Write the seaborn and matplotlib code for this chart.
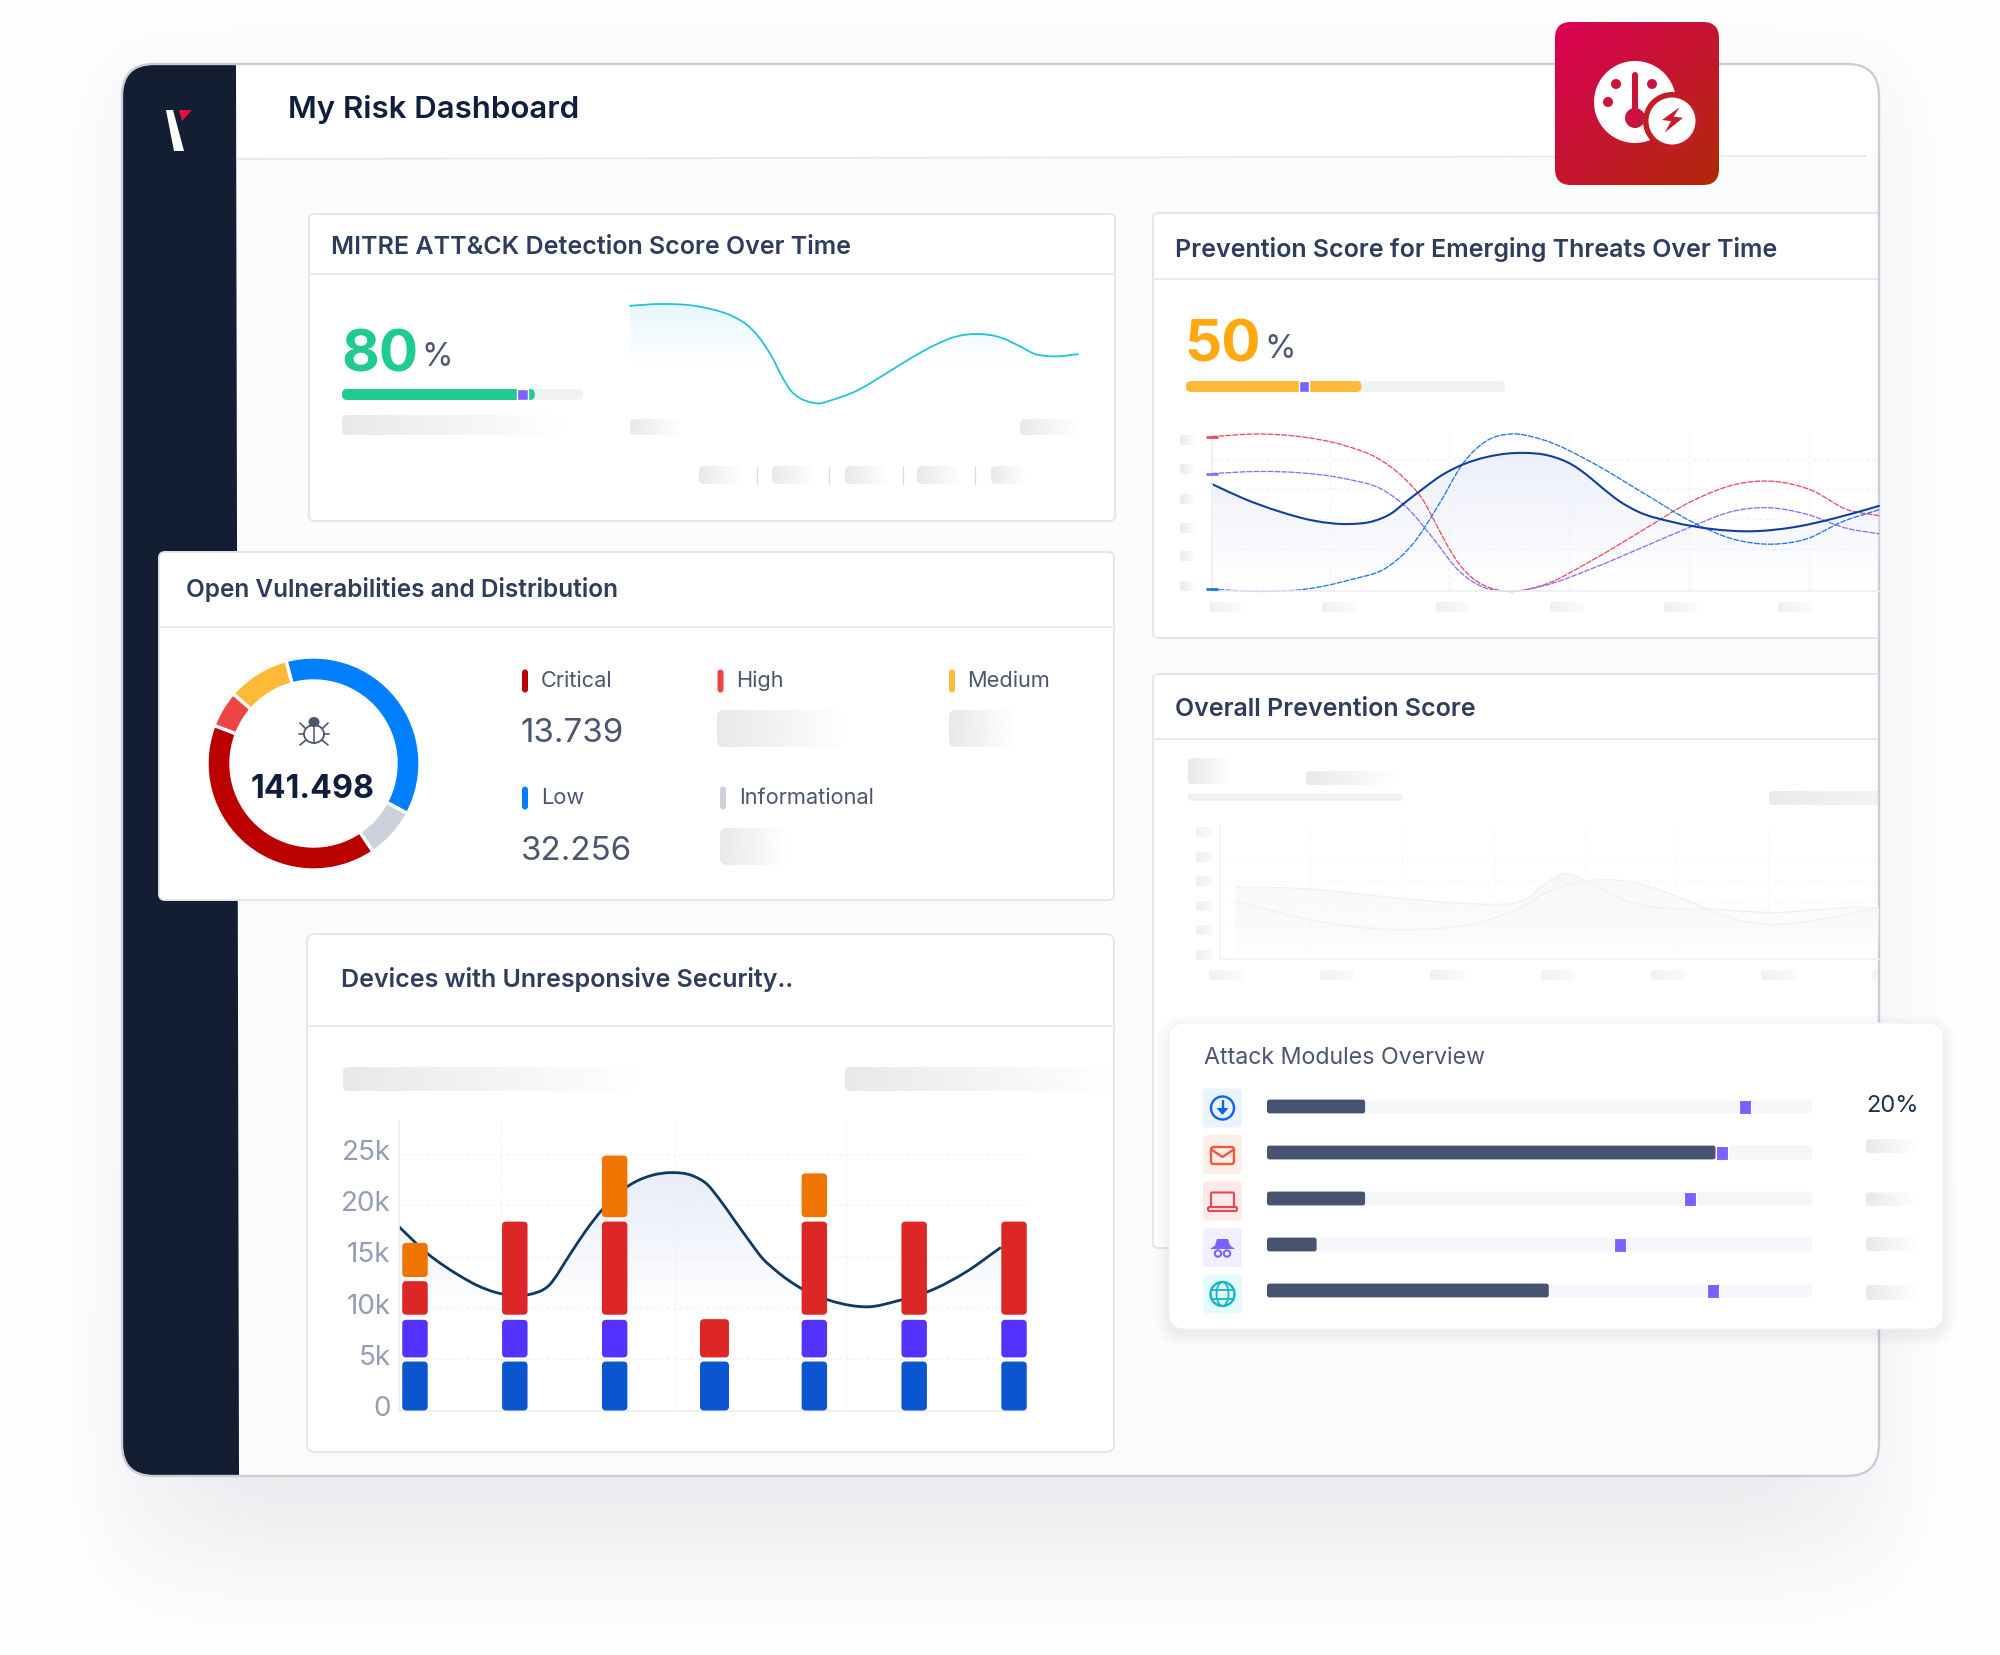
import numpy as np
import matplotlib
matplotlib.use("Agg")
import matplotlib.pyplot as plt
import matplotlib.transforms as mtrans
from matplotlib.colors import to_rgb
from matplotlib.patches import Circle, Ellipse, FancyBboxPatch, PathPatch, Polygon, Rectangle
from matplotlib.path import Path
import seaborn as sns

# Configuration
W, H = 2000, 1655
FONT = "Inter"
TITLE_COL = "#2f3d5c"
TEXT_COL = "#4a5670"
NAVY = "#0f1e3d"
PURPLE = "#7b61ff"

# MITRE detection score over time
DET_T = [0, 5, 10, 12.5, 16, 18.5, 20, 21, 22, 24, 25.2, 26.5, 27.8, 29.5, 32, 35, 41, 44.5, 48, 51,
         54.5, 58, 61, 63.5, 65.2, 67, 70.2]
DET_SCORE = [98.4, 100, 98.4, 95.6, 89, 80, 71, 63, 54, 31.5, 20.5, 14, 10.7, 8.8, 12.6, 19, 39.4, 52, 63, 70,
             72.5, 69.4, 61.5, 54, 52.3, 52, 54]
DET_GAUGE = 80
DET_MARK = 72.6

# Prevention score for emerging threats
NAVY_T = [0, 6.5, 13.5, 20.5, 27.5, 32.5, 36, 39, 42.5, 46, 49.5, 55.5, 62.5, 67.5, 72.5, 75.5, 78.5, 82, 85.5,
          92.5, 100.5, 108.5, 116.5, 125.5, 134]
NAVY_SCORE = [68.2, 58.8, 50.8, 44.9, 42.8, 44.7, 49.5, 57, 65.5, 73.5, 79.4, 85.6, 88, 86.4, 80.2, 73.5, 65.5, 57,
              50.8, 44.1, 39.6, 38.2, 40.6, 46.8, 54.3]
RED_T = [0, 9.5, 17.5, 26.5, 33.5, 38.5, 42.5, 45, 47.5, 50, 52.5, 56, 59.5, 66.5, 76.5, 86.5, 96.5, 105.5, 112.5,
         120.5, 127.5, 134]
RED_SCORE = [98.4, 100, 98.4, 92.8, 84.2, 72.2, 57.5, 42.8, 28, 16, 8, 2.1, 0, 4, 20, 38.8, 57.5, 68.2, 70,
             64.2, 52.1, 48.1]
VIOLET_T = [0, 9.5, 17.5, 26.5, 34.5, 39.5, 44.5, 49.5, 54.5, 59.5, 66.5, 76.5, 86.5, 96.5, 104.5, 111.5, 119.5,
            127.5, 134]
VIOLET_SCORE = [74.9, 76.2, 75.4, 71.7, 64.2, 52.1, 33.4, 13.4, 2.7, 0, 3.5, 14.7, 28, 41.4, 50.8, 53.2, 49,
                40.1, 36.6]
BLUE_T = [0, 9.5, 18.5, 27.5, 35.5, 40.5, 45.5, 50.5, 55.5, 60, 66.5, 76.5, 86.5, 96.5, 104.5, 112.5, 119.5,
          126.5, 134]
BLUE_SCORE = [1.3, 0, 1.3, 7.2, 16, 30.7, 54.8, 81.6, 96.3, 100, 96.3, 81.6, 62.8, 44.1, 33.4, 30, 33.4, 44.1, 51.9]
EMERGING_GAUGE = 55
EMERGING_MARK = 35.4

# Open vulnerabilities
DONUT_LABELS = ["Low", "Informational", "Critical", "High", "Medium"]
DONUT_SHARE = [133, 28, 145, 20, 34]
DONUT_COLORS = ["#0080ff", "#cbd2db", "#bb0000", "#ef4444", "#ffb938"]
DONUT_TOTAL = "141.498"
CRITICAL_COUNT = "13.739"
LOW_COUNT = "32.256"

# Devices with unresponsive security, stacked pieces in thousands
BAR_POS = [0, 1, 2, 3, 4, 5, 6]
BLUE_LOW = [0, 0, 0, 0, 0, 0, 0]
BLUE_HIGH = [4.77, 4.77, 4.77, 4.77, 4.77, 4.77, 4.77]
PURPLE_LOW = [5.17, 5.17, 5.17, 0, 5.17, 5.17, 5.17]
PURPLE_HIGH = [8.83, 8.83, 8.83, 0, 8.83, 8.83, 8.83]
RED_LOW = [9.33, 9.33, 9.33, 5.17, 9.33, 9.33, 9.33]
RED_HIGH = [12.6, 18.4, 18.4, 8.9, 18.4, 18.4, 18.4]
ORANGE_LOW = [13, 0, 18.83, 0, 18.83, 0, 0]
ORANGE_HIGH = [16.33, 0, 24.83, 0, 23.1, 0, 0]
TREND_POS = [-0.16, 0.12, 0.44, 0.62, 0.81, 1.13, 1.34, 1.55, 1.71, 1.87, 2.13, 2.37, 2.56, 2.79, 2.93, 3.03, 3.19,
             3.35, 3.48, 3.61, 3.88, 4.14, 4.41, 4.54, 4.83, 5.2, 5.52, 5.86]
TREND_K = [17.9, 15.33, 13.17, 12.2, 11.5, 11.27, 12.17, 15.17, 17.5, 19.5, 21.83, 22.9, 23.17, 22.83, 22, 20.83,
           18.67, 16.5, 14.83, 13.67, 11.83, 10.77, 10.17, 10.1, 10.67, 11.83, 13.5, 15.83]
Y_TICKS = [0, 5, 10, 15, 20, 25]
Y_LABELS = ["0", "5k", "10k", "15k", "20k", "25k"]

# Overall prevention score (greyed out)
OVERALL_A_T = [3, 17.5, 35.2, 48.5, 56.5, 59.5, 62.5, 65, 67.3, 70, 72.5, 76.5, 80.5, 95.5, 108.5, 116.5, 123.5, 127.6]
OVERALL_A = [83.5, 81, 70, 64, 64, 70, 85, 95, 99, 92.5, 85, 72.5, 64, 57.5, 54, 57.5, 60, 59]
OVERALL_B_T = [3, 17.5, 35.2, 52.5, 57.5, 62.5, 66.5, 70.5, 76.5, 82.5, 88.5, 95.5, 101.5, 106.5, 115.5, 127.6]
OVERALL_B = [67.5, 45, 34, 46, 57.5, 75, 85, 90, 91.5, 85, 72.5, 55, 43.5, 40, 45, 60]

# Attack modules
MODULES = ["Download", "Email", "Endpoint", "Threat actor", "Web"]
MODULE_FILL = [18, 82.3, 18, 9.1, 51.7]
MODULE_MARK = [87.7, 83.4, 77.7, 64.8, 81.9]
MODULE_TRACK = [100, 100, 100, 100, 100]

sns.set_theme(style="white")
plt.rcParams["font.family"] = [FONT, "DejaVu Sans"]

fig = plt.figure(figsize=(W / 100, H / 100), dpi=100, facecolor="white")
bg = fig.add_axes([0, 0, 1, 1], zorder=1)
bg.set_xlim(0, W)
bg.set_ylim(H, 0)
bg.axis("off")
bg.autoscale(False)


def px_axes(x0, y0, x1, y1, zorder=2):
    ax = fig.add_axes([x0 / W, 1 - y1 / H, (x1 - x0) / W, (y1 - y0) / H], zorder=zorder)
    ax.patch.set_alpha(0)
    return ax


def rrect(x0, y0, x1, y1, r, fc, ec="none", lw=0, z=3, clip=None):
    p = FancyBboxPatch((x0, y0), x1 - x0, y1 - y0, boxstyle=f"round,pad=0,rounding_size={r}",
                       fc=fc, ec=ec, lw=lw, zorder=z)
    bg.add_patch(p)
    if clip is not None:
        p.set_clip_path(clip)
    return p


def skeleton(x0, y0, x1, y1, r=5, color="#e8e9eb", z=4, fade=0.0):
    # grey placeholder that fades out to the right
    img = np.ones((1, 64, 4))
    img[..., :3] = to_rgb(color)
    img[..., 3] = np.linspace(1, fade, 64)
    im = bg.imshow(img, extent=(x0, x1, y1, y0), aspect="auto", zorder=z, interpolation="bilinear")
    clip = FancyBboxPatch((x0, y0), x1 - x0, y1 - y0, boxstyle=f"round,pad=0,rounding_size={r}",
                          fc="none", ec="none", transform=bg.transData)
    bg.add_patch(clip)
    im.set_clip_path(clip)


def label(x, y, s, size, color=TEXT_COL, weight="normal", ha="left", z=6):
    return bg.text(x, y, s, fontsize=size, color=color, fontweight=weight, ha=ha, va="center", zorder=z)


def gradient_fill(ax, x, y, color, base, top, alpha=1.0):
    poly = ax.fill_between(x, y, base, facecolor="none", edgecolor="none")
    img = np.ones((64, 1, 4))
    img[..., :3] = to_rgb(color)
    img[..., 3] = np.linspace(alpha, 0, 64).reshape(64, 1)
    im = ax.imshow(img, extent=(min(x), max(x), base, top), aspect="auto", zorder=1, interpolation="bilinear")
    im.set_clip_path(poly.get_paths()[0], transform=ax.transData)


def smooth_last_line(ax, **kws):
    # the dashboard draws splines: redraw the seaborn line as a curve through the same points
    line = ax.get_lines()[-1]
    x, y = np.asarray(line.get_xdata(), float), np.asarray(line.get_ydata(), float)
    slope = np.gradient(y, x)
    verts, codes = [(x[0], y[0])], [Path.MOVETO]
    for i in range(len(x) - 1):
        dx = (x[i + 1] - x[i]) / 3
        verts += [(x[i] + dx, y[i] + slope[i] * dx), (x[i + 1] - dx, y[i + 1] - slope[i + 1] * dx),
                  (x[i + 1], y[i + 1])]
        codes += [Path.CURVE4] * 3
    patch = PathPatch(Path(verts, codes), fc="none", ec=line.get_color(), lw=line.get_linewidth(),
                      ls=line.get_linestyle(), zorder=line.get_zorder(), clip_on=line.get_clip_on(),
                      capstyle="round", **kws)
    ax.add_patch(patch)
    line.remove()


def round_bars(ax, r):
    # swap the square seaborn bars for rounded ones, r in pixels
    box = ax.get_window_extent()
    x0, x1 = ax.get_xlim()
    y0, y1 = ax.get_ylim()
    px = box.width / abs(x1 - x0)
    py = box.height / abs(y1 - y0)
    for bar in list(ax.patches):
        if not isinstance(bar, Rectangle):
            continue
        bx, by, bw, bh = bar.get_x(), bar.get_y(), bar.get_width(), bar.get_height()
        fc, z = bar.get_facecolor(), bar.get_zorder()
        bar.remove()
        if bw == 0 or bh == 0:
            continue
        ax.add_patch(FancyBboxPatch((bx, by), bw, bh, boxstyle=f"round,pad=0,rounding_size={r / px}",
                                    mutation_aspect=px / py, fc=fc, ec="none", zorder=z))


def gauge(x0, y0, x1, y1, value, mark, mark_w, color):
    ax = px_axes(x0, y0, x1, y1)
    sns.barplot(x=[100], y=["score"], color="#f1f2f4", saturation=1, width=1, orient="h", ax=ax, errorbar=None)
    sns.barplot(x=[value], y=["score"], color=color, saturation=1, width=1, orient="h", ax=ax, errorbar=None)
    ax.set_xlim(0, 100)
    ax.set_ylim(0.5, -0.5)
    round_bars(ax, 5)
    sns.barplot(x=[mark_w], y=["score"], left=[mark], color=PURPLE, saturation=1, width=1, orient="h", ax=ax,
                errorbar=None)
    ax.set_xlim(0, 100)
    ax.set_ylim(0.5, -0.5)
    ax.axis("off")


def dashed_grid(ax, xs, ys, color="#eef0f4", spine="#eceef2"):
    ax.set_xticks(xs)
    ax.set_yticks(ys)
    ax.grid(True, color=color, lw=0.8, ls=(0, (3, 3)))
    ax.set_axisbelow(True)
    ax.tick_params(length=0, labelbottom=False, labelleft=False)
    sns.despine(ax=ax, top=True, right=True)
    for side in ("left", "bottom"):
        ax.spines[side].set_color(spine)
        ax.spines[side].set_linewidth(1.2)


# page shadow behind the window
yy, xx = np.mgrid[0:H:2, 0:W:2]
sig = lambda v, s: 1 / (1 + np.exp(-v / s))
shade = sig(xx - 105, 24) * sig(1900 - xx, 24) * sig(yy - 70, 30) * sig(1560 - yy, 36)
extra = sig(xx - 190, 30) * sig(1815 - xx, 30) * sig(yy - 1300, 40) * sig(1545 - yy, 32)
page = np.ones((yy.shape[0], yy.shape[1], 3))
for i, amount in enumerate((0.045, 0.045, 0.03)):
    page[..., i] = 1 - amount * shade - 0.035 * extra
bg.imshow(page, extent=(0, W, H, 0), aspect="auto", zorder=0, interpolation="bilinear")

# window frame, header and sidebar
FX1, FY1 = 1879, 1476
frame = rrect(122, 64, FX1, FY1, 32, "#fafbfb", z=1)
header = Rectangle((122, 64), FX1 - 122, 94, fc="white", ec="none", zorder=2)
bg.add_patch(header)
header.set_clip_path(frame)
bg.plot([238, 1866], [159, 156], color="#e6e8ee", lw=1.3, zorder=2)
side = Polygon([(122, 64), (236, 64), (239, FY1), (122, FY1)], closed=True, fc="#141e33", ec="none", zorder=2)
bg.add_patch(side)
side.set_clip_path(frame)
bg.add_patch(Polygon([(166, 110), (173, 110), (184, 151), (174, 151)], fc="white", ec="none", zorder=3))
bg.add_patch(Polygon([(179, 110), (192, 110), (182, 121)], fc="#e0103f", ec="none", zorder=3))
label(288, 109, "My Risk Dashboard", 22.5, NAVY, "semibold")

# cards
for x0, y0, x1, y1, hy, r in [(309, 214, 1115, 521, 274, 5), (1153, 213, 1900, 638, 279, 5),
                              (1153, 674, 1900, 1248, 739, 5), (307, 934, 1114, 1452, 1026, 8)]:
    card = rrect(x0, y0, x1, y1, r, "white", "#e3e6ed", 1.4, z=3)
    card.set_clip_path(frame)
    line = bg.plot([x0, x1], [hy, hy], color="#e6e8ee", lw=1.3, zorder=4)[0]
    line.set_clip_path(frame)
bg.add_patch(FancyBboxPatch((122, 64), FX1 - 122, FY1 - 64, boxstyle="round,pad=0,rounding_size=32", fc="none",
                            ec="#c8cdd8", lw=1.7, zorder=5))
rrect(159, 552, 1114, 900, 6, "white", "#e3e6ed", 1.4, z=6)
bg.plot([159, 1114], [627, 627], color="#e6e8ee", lw=1.3, zorder=6)

label(331, 248, "MITRE ATT&CK Detection Score Over Time", 18, TITLE_COL, "semibold")
label(1175, 249, "Prevention Score for Emerging Threats Over Time", 18, TITLE_COL, "semibold")
label(186, 590, "Open Vulnerabilities and Distribution", 17.6, TITLE_COL, "semibold", z=7)
label(1175, 710, "Overall Prevention Score", 18, TITLE_COL, "semibold")
label(341, 980, "Devices with Unresponsive Security..", 18, TITLE_COL, "semibold")

# detection score card
label(341, 356, "80", 42, "#20cb91", "bold")
label(421, 358, "%", 23)
gauge(342, 389, 583, 400, DET_GAUGE, DET_MARK, 4.6, "#20cb91")
skeleton(342, 415, 566, 435)
skeleton(630, 419, 681, 435)
skeleton(1020, 419, 1077, 435)
for x0, x1 in [(699, 742), (772, 815), (845, 888), (917, 961), (991, 1026)]:
    skeleton(x0, 466, x1, 484)
for x in [756.5, 829, 903, 975]:
    bg.plot([x, x], [466, 484], color="#d9dce2", lw=0.9, zorder=4)

ax = px_axes(630, 304, 1078, 413)
gradient_fill(ax, DET_T, DET_SCORE, "#e6f8fd", 45, 100)
sns.lineplot(x=DET_T, y=DET_SCORE, color="#22c3d6", lw=1.3, ax=ax, errorbar=None, sort=False, clip_on=False)
smooth_last_line(ax)
ax.set_xlim(0, 70.2)
ax.set_ylim(0, 100)
ax.axis("off")

# emerging threats card
label(1184, 347, "50", 42, "#ffa90f", "bold")
label(1264, 350, "%", 23)
gauge(1186, 381, 1505, 392, EMERGING_GAUGE, EMERGING_MARK, 3.1, "#ffb938")
for y in [440, 469, 499, 528, 556, 586]:
    skeleton(1180, y - 5, 1196, y + 5, r=3)
for x0, x1 in [(1209, 1242), (1322, 1356), (1436, 1470), (1550, 1584), (1664, 1698), (1778, 1812)]:
    skeleton(x0, 602, x1, 612, r=3, color="#eeeff1", fade=0.2)

ax = px_axes(1212, 434, FX1, 591.4)
gradient_fill(ax, NAVY_T, NAVY_SCORE, "#edf0fa", 0, 88)
dashed_grid(ax, [23.7, 47.7, 71.8, 95.9, 120], [26.7, 46, 65, 83.4])
for t, v, c in [(RED_T, RED_SCORE, "#ef4a5f"), (VIOLET_T, VIOLET_SCORE, "#8f6bff"), (BLUE_T, BLUE_SCORE, "#1f74ee")]:
    sns.lineplot(x=t, y=v, color=c, lw=0.95, ls=(0, (1.1, 0.8)), ax=ax, errorbar=None, sort=False, clip_on=False)
    smooth_last_line(ax)
    sns.scatterplot(x=t[:1], y=v[:1], color=c, marker="_", s=70, linewidth=2, ax=ax, clip_on=False, zorder=5)
sns.lineplot(x=NAVY_T, y=NAVY_SCORE, color="#123f9c", lw=1.5, ax=ax, errorbar=None, sort=False, clip_on=False)
smooth_last_line(ax)
ax.set_xlim(0, 134)
ax.set_ylim(0, 100)
ax.set_ylabel("")

# vulnerabilities card
ax = px_axes(207, 657, 420, 870, zorder=3)
wedges, _ = ax.pie(DONUT_SHARE, colors=DONUT_COLORS, startangle=105, counterclock=False, radius=1,
                   wedgeprops=dict(width=0.225, edgecolor="white", linewidth=2.4))
for w in wedges:
    w.set_clip_on(False)
ax.set_xlim(-1, 1)
ax.set_ylim(-1, 1)

# bug icon above the total
bug = "#4a5670"
bg.add_patch(Ellipse((314, 734), 20, 18, fc="white", ec=bug, lw=1.3, zorder=7))
bg.add_patch(Ellipse((314, 722), 11, 10, fc=bug, ec="none", zorder=7))
bg.plot([314, 314], [726, 743], color=bug, lw=1.1, zorder=7)
for sx in (-1, 1):
    bg.plot([314 + sx * 9, 314 + sx * 14], [728, 723], color=bug, lw=1.2, zorder=7)
    bg.plot([314 + sx * 10, 314 + sx * 15], [734, 734], color=bug, lw=1.2, zorder=7)
    bg.plot([314 + sx * 8, 314 + sx * 14], [740, 745], color=bug, lw=1.2, zorder=7)
label(313, 789, DONUT_TOTAL, 23.2, NAVY, "bold", ha="center", z=7)

for x, y, col, name, tx in [(525, 681, "#bb0000", "Critical", 541), (720.5, 681, "#ef4444", "High", 736),
                            (952, 681, "#ffb938", "Medium", 967.5), (525, 798, "#0080ff", "Low", 541),
                            (723, 798, "#cbd2db", "Informational", 739)]:
    rrect(x - 3, y - 11.5, x + 3, y + 11.5, 3, col, z=7)
    label(tx, y, name, 15.7, TEXT_COL, z=7)
label(520, 733, CRITICAL_COUNT, 23.8, TEXT_COL, z=7)
label(521, 851, LOW_COUNT, 23.8, TEXT_COL, z=7)
skeleton(717, 710, 847, 747, r=7, z=7)
skeleton(949, 710, 1016, 747, r=7, z=7)
skeleton(720, 828, 787, 865, r=7, z=7)

# devices card
skeleton(343, 1067, 640, 1091)
skeleton(845, 1067, 1113, 1091)

ax = px_axes(399, 1121, 1027, 1410.5)
gradient_fill(ax, TREND_POS, TREND_K, "#e8edf9", 9.3, 23.2)
sns.lineplot(x=TREND_POS, y=TREND_K, color="#0d3a63", lw=2.0, ax=ax, errorbar=None, sort=False, zorder=2)
smooth_last_line(ax)
pieces = [(BLUE_LOW, BLUE_HIGH, "#0b55d0"), (PURPLE_LOW, PURPLE_HIGH, "#5433ff"),
          (RED_LOW, RED_HIGH, "#dd2626"), (ORANGE_LOW, ORANGE_HIGH, "#f07400")]
for low, high, col in pieces:
    sns.barplot(x=BAR_POS, y=np.array(high) - np.array(low), bottom=low, native_scale=True, width=0.255,
                color=col, saturation=1, ax=ax, errorbar=None, zorder=3)
for bar in ax.patches:
    if isinstance(bar, Rectangle) and abs(bar.get_x() + bar.get_width() / 2 - 3) < 0.01:
        bar.set_x(3 - 0.145)
        bar.set_width(0.29)
ax.set_xlim(-0.16, 6.13)
ax.set_ylim(0, 28.2)
round_bars(ax, 4)
dashed_grid(ax, [0.86, 2.6, 4.32, 6.13], Y_TICKS)
ax.set_yticklabels(Y_LABELS)
ax.tick_params(labelleft=True, labelsize=20, labelcolor="#939db3", pad=6)
shift = mtrans.ScaledTranslation(0, 3 / 72, fig.dpi_scale_trans)
for t in ax.get_yticklabels():
    t.set_transform(t.get_transform() + shift)

# overall prevention card, all greyed out
skeleton(1188, 758, 1230, 784, r=4)
skeleton(1306, 771, 1398, 785, r=4)
skeleton(1188, 794, 1403, 801, r=3, color="#f1f2f3", fade=1.0)
skeleton(1769, 791, FX1, 805, r=4, color="#ebebec", fade=0.6)
for y in [832, 857, 881, 906, 930, 955]:
    skeleton(1196, y - 5, 1212, y + 5, r=3, color="#f0f0f2", fade=0.4)
for x0, x1 in [(1209, 1243), (1320, 1354), (1430, 1465), (1541, 1575), (1651, 1685), (1761, 1796), (1872, FX1)]:
    skeleton(x0, 970, x1, 980, r=3, color="#f0f1f3", fade=0.3)

ax = px_axes(1220, 825, FX1, 959)
gradient_fill(ax, OVERALL_A_T, OVERALL_A, "#f8f8f9", 0, 99)
gradient_fill(ax, OVERALL_B_T, OVERALL_B, "#f9f9fa", 0, 91)
dashed_grid(ax, [17.5, 35.2, 53, 70.7, 88.5, 106.2], [38, 65, 90, 116], color="#f5f6f7", spine="#f2f3f5")
sns.lineplot(x=OVERALL_A_T, y=OVERALL_A, color="#f0f0f0", lw=0.9, ax=ax, errorbar=None, sort=False)
smooth_last_line(ax)
sns.lineplot(x=OVERALL_B_T, y=OVERALL_B, color="#f0f0f0", lw=0.9, ax=ax, errorbar=None, sort=False)
smooth_last_line(ax)
ax.set_xlim(0, 127.6)
ax.set_ylim(0, 155)

# attack modules card with soft shadow
for i in range(14):
    rrect(1169 - i, 1023 - i + 5, 1943 + i, 1329 + i + 5, 16 + i, "#40445a", z=6).set_alpha(0.004)
rrect(1169, 1023, 1943, 1329, 16, "white", "#f1f2f5", 0.8, z=7)
label(1204, 1058, "Attack Modules Overview", 16.7, TEXT_COL, z=8)
label(1866, 1106, "20%", 17, "#1f2f52", z=8)
for y0, y1 in [(1139, 1153.5), (1192.5, 1206.5), (1237, 1251), (1285, 1300)]:
    skeleton(1866, y0, 1917, y1, r=4, z=8)

ax = px_axes(1267, 1083.5, 1812, 1313.5, zorder=3)
sns.barplot(x=MODULE_TRACK, y=MODULES, color="#f5f6f9", saturation=1, width=0.3, orient="h", ax=ax, errorbar=None)
sns.barplot(x=MODULE_FILL, y=MODULES, color="#46546f", saturation=1, width=0.3, orient="h", ax=ax, errorbar=None)
ax.set_xlim(0, 100)
ax.set_ylim(4.5, -0.5)
round_bars(ax, 2.5)
tall = Path([(-0.38, -0.5), (0.38, -0.5), (0.38, 0.5), (-0.38, 0.5), (-0.38, -0.5)])
sns.scatterplot(x=MODULE_MARK, y=MODULES, marker=tall, s=110, color=PURPLE, edgecolor="white", linewidth=0.8,
                ax=ax, zorder=5, clip_on=False)
ax.set_xlim(0, 100)
ax.set_ylim(4.5, -0.5)
ax.axis("off")

# module icons
icon_bg = ["#eaf3ff", "#fdeeea", "#fde9ea", "#f1eeff", "#e3fbfb"]
for y, col in zip([1108, 1154.5, 1201, 1247.5, 1294], icon_bg):
    rrect(1203, y - 19.5, 1242, y + 19.5, 4, col, z=8)
cx = 1222.5
c = "#0b63f6"
bg.add_patch(Circle((cx, 1108), 11.5, fc="none", ec=c, lw=1.7, zorder=9))
bg.plot([cx, cx], [1101, 1111], color=c, lw=1.7, zorder=9)
bg.add_patch(Polygon([(cx - 6, 1108), (cx + 6, 1108), (cx, 1115)], fc=c, ec="none", zorder=9))
c = "#ee5a35"
rrect(1211, 1147, 1234, 1164, 2.5, "none", c, 1.7, z=9)
bg.plot([1212, cx, 1233], [1150, 1157, 1150], color=c, lw=1.7, zorder=9)
c = "#e5484d"
rrect(1211, 1192.5, 1234, 1207, 1.5, "none", c, 1.5, z=9)
rrect(1208, 1207, 1237, 1211, 1.5, "none", c, 1.5, z=9)
c = PURPLE
bg.add_patch(Polygon([(1217, 1239), (1228, 1239), (1230, 1245.5), (1235, 1249), (1210, 1249), (1215, 1245.5)],
                     fc=c, ec="none", zorder=9))
bg.add_patch(Circle((1218, 1253.5), 3.2, fc="none", ec=c, lw=1.5, zorder=9))
bg.add_patch(Circle((1227, 1253.5), 3.2, fc="none", ec=c, lw=1.5, zorder=9))
c = "#11b5c4"
bg.add_patch(Circle((cx, 1294), 12, fc="none", ec=c, lw=1.7, zorder=9))
bg.add_patch(Ellipse((cx, 1294), 12, 24, fc="none", ec=c, lw=1.3, zorder=9))
for y in [1289.5, 1298.5]:
    bg.plot([cx - 11, cx + 11], [y, y], color=c, lw=1.3, zorder=9)

# red badge in the corner
n = 128
gy, gx = np.mgrid[0:1:n * 1j, 0:1:n * 1j]
g = ((gx + gy) / 2)[..., None]
badge = (1 - g) * np.array(to_rgb("#dc0057")) + g * np.array(to_rgb("#b02a08"))
im = bg.imshow(badge, extent=(1555, 1719, 185, 22), aspect="auto", zorder=9, interpolation="bilinear")
badge_clip = FancyBboxPatch((1555, 22), 164, 163, boxstyle="round,pad=0,rounding_size=16", fc="none", ec="none")
bg.add_patch(badge_clip)
im.set_clip_path(badge_clip)
bg.add_patch(Circle((1635, 102), 41, fc="white", ec="none", zorder=10))
red = "#c9143c"
bg.plot([1635, 1635], [75, 118], color=red, lw=4.4, solid_capstyle="round", zorder=11)
bg.add_patch(Circle((1635, 118), 10, fc=red, ec="none", zorder=11))
for x, y in [(1616, 84), (1652, 84), (1608, 102)]:
    bg.add_patch(Circle((x, y), 5, fc=red, ec="none", zorder=11))
bg.add_patch(Circle((1672, 121), 29, fc="#bf1f24", ec="none", zorder=11))
bg.add_patch(Circle((1672, 121), 23.5, fc="white", ec="none", zorder=12))
bg.add_patch(Polygon([(1679.6, 107.3), (1662, 120), (1671, 121.2), (1664.7, 132.6), (1683, 117.9), (1673.7, 116.6)],
                     fc="#c41c2a", ec="none", zorder=13))

bg.set_xlim(0, W)
bg.set_ylim(H, 0)
fig.savefig("out.png", dpi=100, facecolor="white")
